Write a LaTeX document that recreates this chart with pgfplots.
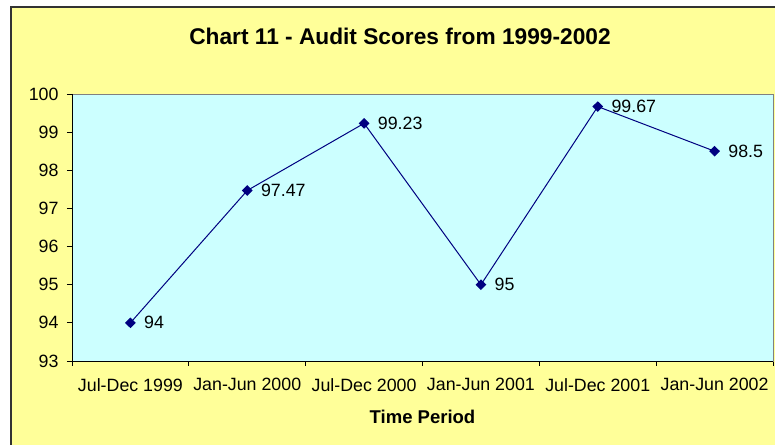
\documentclass[border=0pt]{standalone}
\usepackage{fontspec}
\setmainfont{Liberation Sans}
\usepackage{pgfplots}
\pgfplotsset{compat=1.18}
\definecolor{chartbg}{HTML}{FFFF99}
\definecolor{plotbg}{HTML}{CCFFFF}
\definecolor{navyline}{HTML}{000080}
\begin{document}
\begin{tikzpicture}[x=1bp,y=1bp]
\useasboundingbox (0,0) rectangle (775,445);
\fill[white] (0,0) rectangle (775,445);
\filldraw[fill=chartbg, draw=black!80, line width=1.3bp] (11,-10) rectangle (795,438);
\node[font=\fontsize{22.7bp}{26bp}\selectfont\bfseries] at (400,409) {Chart 11 - Audit Scores from 1999-2002};
\begin{axis}[
  at={(72bp,84bp)}, anchor=south west,
  scale only axis, width=701bp, height=267bp,
  xmin=-0.5, xmax=5.5, ymin=93, ymax=100,
  ytick={93,...,100},
  xtick={0,...,5},
  xticklabels={Jul-Dec 1999, Jan-Jun 2000, Jul-Dec 2000, Jan-Jun 2001, Jul-Dec 2001, Jan-Jun 2002},
  minor xtick={-0.5,0.5,...,5.5},
  tick align=outside,
  tick pos=left,
  major tick length=5bp,
  minor tick length=5bp,
  major x tick style={draw=none},
  minor x tick style={black, line width=0.8bp},
  major y tick style={black, line width=0.8bp},
  axis background/.style={fill=plotbg},
  axis line style={draw=gray, line width=0.8bp},
  /pgf/number format/assume math mode=true,
  tick label style={font=\fontsize{17.8bp}{20bp}\selectfont},
  xticklabel style={yshift=-9bp},
  yticklabel style={xshift=-5bp},
  xlabel={Time Period},
  xlabel style={at={(axis description cs:0.5,0)}, anchor=center, yshift=-56bp, font=\fontsize{18.5bp}{21bp}\selectfont\bfseries},
  clip=false,
  point meta=explicit symbolic,
  nodes near coords,
  every node near coord/.append style={anchor=west, xshift=10bp, yshift=0bp, font=\fontsize{17.8bp}{20bp}\selectfont, text=black},
]
\addplot[color=navyline, line width=1bp, mark=diamond*, mark size=4.6bp, mark options={fill=navyline, xscale=1.35}]
  coordinates {(0,94) [94] (1,97.47) [97.47] (2,99.23) [99.23] (3,95) [95] (4,99.67) [99.67] (5,98.5) [98.5]};
\draw[black, line width=0.8bp] (rel axis cs:0,1) -- (rel axis cs:0,0) -- (rel axis cs:1,0);
\end{axis}
\end{tikzpicture}
\end{document}
